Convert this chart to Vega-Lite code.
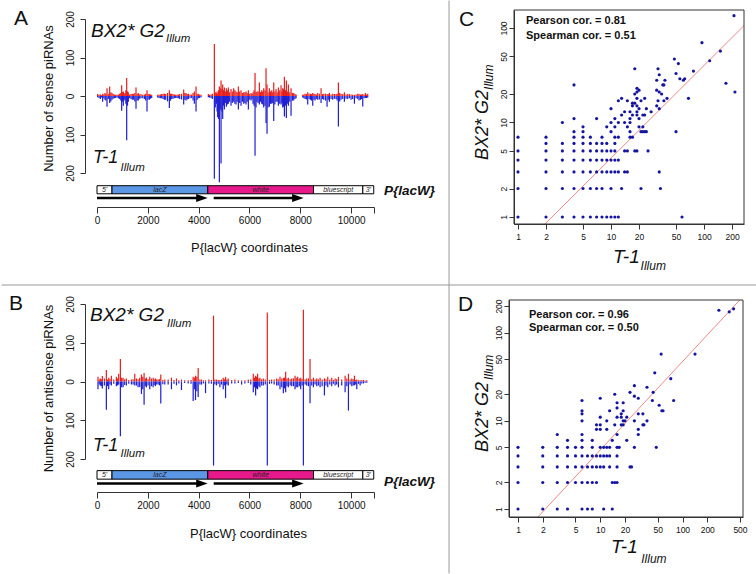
{
"$schema": "https://vega.github.io/schema/vega-lite/v6.json",
"padding": 0,
"autosize": {"type": "pad"},
"config": {
  "view": {"stroke": null},
  "font": "Liberation Sans",
  "axis": {"grid": false, "domainColor": "#333", "tickColor": "#333", "labelColor": "#111", "titleColor": "#111", "labelFont": "Liberation Sans", "titleFont": "Liberation Sans", "titleFontWeight": "normal", "labelFlush": false, "labelOverlap": false},
  "text": {"font": "Liberation Sans", "color": "#111"}
},
"datasets": {
  "aSpikes": [
    {"p":26,"s":5,"t":-3},{"p":131,"s":4,"t":-8},{"p":223,"s":6,"t":-15},{"p":315,"s":8,"t":-10},{"p":394,"s":20,"t":-28},{"p":499,"s":25,"t":-18},{"p":590,"s":8,"t":-10},{"p":682,"s":4,"t":-6},{"p":787,"s":3,"t":-4},{"p":892,"s":6,"t":-8},{"p":971,"s":28,"t":-38},{"p":1036,"s":12,"t":-25},{"p":1102,"s":8,"t":-12},{"p":1168,"s":47,"t":-115},{"p":1233,"s":10,"t":-15},{"p":1338,"s":5,"t":-8},{"p":1443,"s":6,"t":-10},{"p":1535,"s":22,"t":-33},{"p":1627,"s":8,"t":-12},{"p":1732,"s":5,"t":-6},{"p":1863,"s":4,"t":-8},{"p":1968,"s":15,"t":-40},{"p":2060,"s":5,"t":-10},{"p":2152,"s":3,"t":-5},{"p":2388,"s":3,"t":-4},{"p":2493,"s":4,"t":-6},{"p":2598,"s":6,"t":-8},{"p":2703,"s":5,"t":-10},{"p":2847,"s":15,"t":-31},{"p":2939,"s":6,"t":-8},{"p":3044,"s":4,"t":-6},{"p":3149,"s":3,"t":-5},{"p":3254,"s":5,"t":-8},{"p":3411,"s":17,"t":-22},{"p":3503,"s":8,"t":-12},{"p":3595,"s":6,"t":-8},{"p":3726,"s":4,"t":-5},{"p":3831,"s":12,"t":-20},{"p":3897,"s":25,"t":-40},{"p":3988,"s":5,"t":-6},{"p":4093,"s":3,"t":-3},{"p":4382,"s":5,"t":-3},{"p":4487,"s":4,"t":-5},{"p":4618,"s":135,"t":-215},{"p":4697,"s":8,"t":-20},{"p":4749,"s":5,"t":-55},{"p":4815,"s":25,"t":-224},{"p":4881,"s":40,"t":-175},{"p":4946,"s":30,"t":-60},{"p":5012,"s":22,"t":-35},{"p":5091,"s":20,"t":-28},{"p":5169,"s":22,"t":-20},{"p":5274,"s":18,"t":-25},{"p":5379,"s":20,"t":-15},{"p":5471,"s":12,"t":-22},{"p":5563,"s":25,"t":-35},{"p":5668,"s":15,"t":-25},{"p":5773,"s":10,"t":-20},{"p":5865,"s":12,"t":-22},{"p":5956,"s":15,"t":-35},{"p":6061,"s":8,"t":-12},{"p":6140,"s":10,"t":-20},{"p":6219,"s":60,"t":-155},{"p":6298,"s":12,"t":-15},{"p":6389,"s":35,"t":-22},{"p":6481,"s":15,"t":-20},{"p":6560,"s":20,"t":-30},{"p":6652,"s":72,"t":-70},{"p":6691,"s":30,"t":-98},{"p":6783,"s":20,"t":-28},{"p":6875,"s":15,"t":-20},{"p":6954,"s":35,"t":-65},{"p":7045,"s":18,"t":-15},{"p":7137,"s":22,"t":-25},{"p":7242,"s":28,"t":-22},{"p":7308,"s":20,"t":-30},{"p":7374,"s":50,"t":-53},{"p":7452,"s":40,"t":-57},{"p":7531,"s":30,"t":-25},{"p":7636,"s":20,"t":-51},{"p":7741,"s":8,"t":-12},{"p":7833,"s":4,"t":-6},{"p":8095,"s":3,"t":-4},{"p":8187,"s":6,"t":-8},{"p":8292,"s":10,"t":-22},{"p":8397,"s":6,"t":-10},{"p":8489,"s":8,"t":-25},{"p":8580,"s":5,"t":-12},{"p":8685,"s":8,"t":-10},{"p":8817,"s":20,"t":-18},{"p":8922,"s":6,"t":-10},{"p":9053,"s":5,"t":-28},{"p":9145,"s":8,"t":-15},{"p":9276,"s":6,"t":-10},{"p":9407,"s":5,"t":-8},{"p":9499,"s":35,"t":-79},{"p":9604,"s":6,"t":-10},{"p":9735,"s":10,"t":-15},{"p":9866,"s":5,"t":-8},{"p":9997,"s":4,"t":-10},{"p":10129,"s":3,"t":-20},{"p":10260,"s":6,"t":-8},{"p":10365,"s":4,"t":-10},{"p":10457,"s":5,"t":-27},{"p":10562,"s":8,"t":-5},{"p":10653,"s":6,"t":-4},
    {"p":80,"s":3,"t":-5},{"p":175,"s":2,"t":-4},{"p":270,"s":4,"t":-6},{"p":350,"s":5,"t":-12},{"p":445,"s":6,"t":-8},{"p":545,"s":10,"t":-14},{"p":635,"s":5,"t":-7},{"p":735,"s":3,"t":-5},{"p":840,"s":4,"t":-6},{"p":935,"s":8,"t":-12},{"p":1003,"s":10,"t":-15},{"p":1070,"s":6,"t":-9},{"p":1135,"s":15,"t":-20},{"p":1200,"s":12,"t":-25},{"p":1285,"s":4,"t":-6},{"p":1390,"s":6,"t":-10},{"p":1490,"s":8,"t":-14},{"p":1580,"s":6,"t":-12},{"p":1680,"s":4,"t":-7},{"p":1800,"s":3,"t":-6},{"p":1915,"s":6,"t":-12},{"p":2010,"s":5,"t":-9},{"p":2105,"s":4,"t":-7},{"p":2440,"s":3,"t":-5},{"p":2545,"s":5,"t":-6},{"p":2650,"s":6,"t":-10},{"p":2775,"s":8,"t":-14},{"p":2893,"s":6,"t":-12},{"p":2990,"s":5,"t":-7},{"p":3097,"s":3,"t":-5},{"p":3200,"s":4,"t":-6},{"p":3330,"s":6,"t":-9},{"p":3457,"s":8,"t":-10},{"p":3549,"s":5,"t":-9},{"p":3660,"s":4,"t":-6},{"p":3780,"s":8,"t":-12},{"p":3940,"s":6,"t":-10},{"p":4040,"s":4,"t":-5},{"p":4430,"s":3,"t":-4},{"p":4540,"s":6,"t":-8},{"p":4655,"s":10,"t":-30},{"p":4725,"s":12,"t":-40},{"p":4785,"s":15,"t":-60},{"p":4850,"s":20,"t":-35},{"p":4914,"s":18,"t":-40},{"p":4980,"s":15,"t":-25},{"p":5050,"s":12,"t":-18},{"p":5130,"s":15,"t":-22},{"p":5220,"s":10,"t":-15},{"p":5325,"s":12,"t":-18},{"p":5425,"s":15,"t":-20},{"p":5517,"s":10,"t":-15},{"p":5615,"s":12,"t":-18},{"p":5720,"s":8,"t":-15},{"p":5820,"s":10,"t":-18},{"p":5910,"s":8,"t":-15},{"p":6010,"s":6,"t":-10},{"p":6100,"s":5,"t":-8},{"p":6180,"s":15,"t":-25},{"p":6258,"s":10,"t":-30},{"p":6340,"s":12,"t":-18},{"p":6435,"s":10,"t":-15},{"p":6520,"s":12,"t":-22},{"p":6610,"s":15,"t":-25},{"p":6730,"s":10,"t":-30},{"p":6830,"s":12,"t":-20},{"p":6915,"s":10,"t":-18},{"p":7000,"s":12,"t":-22},{"p":7090,"s":10,"t":-15},{"p":7190,"s":15,"t":-20},{"p":7275,"s":12,"t":-18},{"p":7340,"s":18,"t":-28},{"p":7415,"s":15,"t":-25},{"p":7490,"s":12,"t":-20},{"p":7585,"s":10,"t":-15},{"p":7690,"s":8,"t":-12},{"p":7790,"s":5,"t":-8},{"p":8140,"s":4,"t":-6},{"p":8240,"s":5,"t":-9},{"p":8345,"s":6,"t":-8},{"p":8440,"s":5,"t":-12},{"p":8535,"s":6,"t":-10},{"p":8630,"s":4,"t":-8},{"p":8750,"s":6,"t":-9},{"p":8870,"s":5,"t":-8},{"p":8990,"s":6,"t":-12},{"p":9100,"s":5,"t":-10},{"p":9210,"s":4,"t":-8},{"p":9340,"s":5,"t":-7},{"p":9450,"s":6,"t":-12},{"p":9550,"s":8,"t":-14},{"p":9670,"s":5,"t":-8},{"p":9800,"s":4,"t":-7},{"p":9930,"s":5,"t":-6},{"p":10060,"s":3,"t":-8},{"p":10195,"s":4,"t":-6},{"p":10310,"s":5,"t":-12},{"p":10410,"s":4,"t":-8},{"p":10510,"s":3,"t":-6},{"p":10610,"s":4,"t":-5}
  ],
  "bSpikes": [
    {"p":39,"s":12,"t":-20},{"p":131,"s":8,"t":-10},{"p":210,"s":14,"t":-18},{"p":368,"s":30,"t":-73},{"p":460,"s":10,"t":-20},{"p":565,"s":15,"t":-10},{"p":762,"s":12,"t":-12},{"p":854,"s":20,"t":-8},{"p":920,"s":58,"t":-141},{"p":1025,"s":10,"t":-15},{"p":1156,"s":8,"t":-10},{"p":1353,"s":5,"t":-8},{"p":1485,"s":20,"t":-10},{"p":1616,"s":6,"t":-15},{"p":1748,"s":18,"t":-32},{"p":1853,"s":22,"t":-60},{"p":1945,"s":10,"t":-15},{"p":2076,"s":12,"t":-20},{"p":2208,"s":10,"t":-15},{"p":2300,"s":8,"t":-12},{"p":2405,"s":5,"t":-8},{"p":2510,"s":18,"t":-57},{"p":2667,"s":5,"t":-8},{"p":2930,"s":10,"t":-20},{"p":3127,"s":8,"t":-10},{"p":3324,"s":5,"t":-22},{"p":3587,"s":3,"t":-5},{"p":3784,"s":12,"t":-50},{"p":3876,"s":15,"t":-48},{"p":3981,"s":35,"t":-40},{"p":4113,"s":5,"t":-8},{"p":4271,"s":3,"t":-30},{"p":4402,"s":5,"t":-5},{"p":4586,"s":170,"t":-217},{"p":4704,"s":5,"t":-10},{"p":4836,"s":4,"t":-15},{"p":4967,"s":10,"t":-20},{"p":5059,"s":12,"t":-43},{"p":5164,"s":8,"t":-10},{"p":5427,"s":5,"t":-5},{"p":5690,"s":3,"t":-8},{"p":5952,"s":5,"t":-4},{"p":6150,"s":20,"t":-28},{"p":6242,"s":15,"t":-36},{"p":6320,"s":20,"t":-20},{"p":6412,"s":10,"t":-15},{"p":6544,"s":8,"t":-10},{"p":6701,"s":178,"t":-217},{"p":6872,"s":5,"t":-5},{"p":7069,"s":8,"t":-10},{"p":7201,"s":12,"t":-20},{"p":7332,"s":10,"t":-30},{"p":7424,"s":25,"t":-28},{"p":7529,"s":10,"t":-15},{"p":7661,"s":8,"t":-12},{"p":7792,"s":15,"t":-20},{"p":7897,"s":12,"t":-15},{"p":8015,"s":10,"t":-20},{"p":8121,"s":185,"t":-217},{"p":8252,"s":8,"t":-10},{"p":8383,"s":58,"t":-56},{"p":8515,"s":10,"t":-15},{"p":8646,"s":8,"t":-12},{"p":8778,"s":10,"t":-15},{"p":8949,"s":8,"t":-36},{"p":9080,"s":12,"t":-15},{"p":9237,"s":10,"t":-12},{"p":9369,"s":8,"t":-10},{"p":9500,"s":12,"t":-15},{"p":9763,"s":15,"t":-28},{"p":9894,"s":20,"t":-75},{"p":10026,"s":8,"t":-12},{"p":10131,"s":15,"t":-10},{"p":10223,"s":5,"t":-20},{"p":10354,"s":3,"t":-10},{"p":10486,"s":4,"t":-5},{"p":10617,"s":3,"t":-3},
    {"p":85,"s":5,"t":-8},{"p":170,"s":6,"t":-12},{"p":290,"s":8,"t":-10},{"p":414,"s":5,"t":-12},{"p":512,"s":6,"t":-8},{"p":660,"s":5,"t":-6},{"p":810,"s":8,"t":-10},{"p":970,"s":10,"t":-15},{"p":1090,"s":6,"t":-9},{"p":1250,"s":4,"t":-6},{"p":1420,"s":6,"t":-8},{"p":1550,"s":8,"t":-10},{"p":1680,"s":10,"t":-14},{"p":1800,"s":12,"t":-20},{"p":1900,"s":8,"t":-12},{"p":2010,"s":6,"t":-10},{"p":2140,"s":8,"t":-12},{"p":2250,"s":6,"t":-9},{"p":2350,"s":5,"t":-8},{"p":2460,"s":6,"t":-10},{"p":2590,"s":4,"t":-7},{"p":2800,"s":5,"t":-8},{"p":3030,"s":4,"t":-6},{"p":3220,"s":3,"t":-5},{"p":3450,"s":3,"t":-4},{"p":3700,"s":4,"t":-6},{"p":3830,"s":10,"t":-20},{"p":3930,"s":12,"t":-25},{"p":4050,"s":5,"t":-8},{"p":4190,"s":3,"t":-5},{"p":4500,"s":4,"t":-6},{"p":4640,"s":5,"t":-8},{"p":4770,"s":4,"t":-6},{"p":4900,"s":5,"t":-8},{"p":5010,"s":6,"t":-10},{"p":5110,"s":5,"t":-8},{"p":5300,"s":4,"t":-5},{"p":5560,"s":3,"t":-4},{"p":5820,"s":3,"t":-5},{"p":6050,"s":5,"t":-8},{"p":6200,"s":10,"t":-15},{"p":6280,"s":12,"t":-18},{"p":6370,"s":8,"t":-12},{"p":6480,"s":6,"t":-10},{"p":6620,"s":5,"t":-8},{"p":6790,"s":4,"t":-6},{"p":6970,"s":5,"t":-8},{"p":7130,"s":6,"t":-10},{"p":7270,"s":8,"t":-15},{"p":7380,"s":10,"t":-18},{"p":7475,"s":8,"t":-12},{"p":7600,"s":6,"t":-10},{"p":7730,"s":8,"t":-12},{"p":7840,"s":10,"t":-15},{"p":7960,"s":8,"t":-12},{"p":8070,"s":6,"t":-10},{"p":8190,"s":5,"t":-8},{"p":8320,"s":8,"t":-12},{"p":8450,"s":6,"t":-10},{"p":8580,"s":5,"t":-8},{"p":8710,"s":6,"t":-10},{"p":8860,"s":5,"t":-12},{"p":9010,"s":6,"t":-10},{"p":9160,"s":5,"t":-8},{"p":9300,"s":4,"t":-6},{"p":9430,"s":6,"t":-8},{"p":9630,"s":5,"t":-10},{"p":9830,"s":8,"t":-12},{"p":9960,"s":5,"t":-8},{"p":10080,"s":6,"t":-10},{"p":10180,"s":4,"t":-8},{"p":10290,"s":3,"t":-6},{"p":10420,"s":3,"t":-5},{"p":10550,"s":2,"t":-3}
  ],
  "genes": [
    {"seg":"5'","a":0,"b":590,"m":295},{"seg":"lacZ","a":590,"b":4360,"m":2475},{"seg":"white","a":4360,"b":8520,"m":6440},{"seg":"bluescript","a":8520,"b":10460,"m":9490},{"seg":"3'","a":10460,"b":10890,"m":10675}
  ],
  "arrows": [
    {"a":0,"e":4120,"tip":4355},{"a":4592,"e":7890,"tip":8130}
  ],
  "cPts": [
    {"x":1,"y":1},{"x":2,"y":1},{"x":3,"y":1},{"x":4,"y":1},{"x":5,"y":1},{"x":6,"y":1},{"x":7,"y":1},{"x":8,"y":1},{"x":9,"y":1},{"x":10,"y":1},{"x":11,"y":1},{"x":12,"y":1},{"x":58,"y":1},
    {"x":1,"y":2},{"x":2,"y":2},{"x":3,"y":2},{"x":4,"y":2},{"x":5,"y":2},{"x":6,"y":2},{"x":7,"y":2},{"x":8,"y":2},{"x":10,"y":2},{"x":13,"y":2},{"x":21,"y":2},{"x":34,"y":2},
    {"x":1,"y":3},{"x":2,"y":3},{"x":3,"y":3},{"x":4,"y":3},{"x":5,"y":3},{"x":6,"y":3},{"x":7,"y":3},{"x":8,"y":3},{"x":9,"y":3},{"x":10,"y":3},{"x":11,"y":3},{"x":12,"y":3},{"x":14,"y":3},{"x":15,"y":3},{"x":33,"y":3},
    {"x":1,"y":4},{"x":2,"y":4},{"x":3,"y":4},{"x":4,"y":4},{"x":5,"y":4},{"x":6,"y":4},{"x":7,"y":4},{"x":8,"y":4},{"x":9,"y":4},{"x":10,"y":4},{"x":11,"y":4},{"x":12,"y":4},
    {"x":1,"y":5},{"x":2,"y":5},{"x":3,"y":5},{"x":4,"y":5},{"x":5,"y":5},{"x":6,"y":5},{"x":7,"y":5},{"x":8,"y":5},{"x":9,"y":5},{"x":10,"y":5},{"x":11,"y":5},{"x":14,"y":5},{"x":15,"y":5},{"x":18,"y":5},{"x":19,"y":5},{"x":25,"y":5},
    {"x":2,"y":6},{"x":3,"y":6},{"x":4,"y":6},{"x":5,"y":6},{"x":6,"y":6},{"x":7,"y":6},{"x":8,"y":6},{"x":9,"y":6},{"x":11,"y":6},
    {"x":1,"y":7},{"x":2,"y":7},{"x":4,"y":7},{"x":5,"y":7},{"x":6,"y":7},{"x":8,"y":7},{"x":11,"y":7},{"x":12,"y":7},{"x":16,"y":7},{"x":17,"y":7},
    {"x":4,"y":8},{"x":5,"y":8},{"x":10,"y":8},{"x":16,"y":8},{"x":21,"y":8},{"x":22,"y":8},{"x":23,"y":8},{"x":24,"y":8},{"x":50,"y":8},
    {"x":5,"y":9},{"x":9,"y":9},{"x":11,"y":9},{"x":15,"y":9},{"x":20,"y":9},{"x":22,"y":9},
    {"x":3,"y":10},{"x":10,"y":10},{"x":12,"y":10},{"x":14,"y":10},{"x":16,"y":10},
    {"x":4,"y":11},{"x":7,"y":11},{"x":11,"y":11},{"x":16,"y":11},{"x":20,"y":11},
    {"x":13,"y":12},{"x":17,"y":12},{"x":19,"y":12},{"x":22,"y":12},{"x":23,"y":12},
    {"x":14,"y":13},{"x":16,"y":13},{"x":19,"y":13},{"x":27,"y":13},
    {"x":10,"y":14},{"x":20,"y":14},{"x":24,"y":14},{"x":33,"y":14},
    {"x":17,"y":15},{"x":19,"y":15},{"x":31,"y":15},
    {"x":17,"y":16},{"x":18,"y":16},
    {"x":12,"y":17},{"x":15,"y":17},{"x":21,"y":17},{"x":32,"y":17},{"x":37,"y":17},
    {"x":13,"y":18},{"x":19,"y":18},{"x":23,"y":18},{"x":40,"y":18},{"x":68,"y":18},
    {"x":18,"y":20},{"x":35,"y":20},
    {"x":19,"y":21},{"x":33,"y":21},{"x":215,"y":21},
    {"x":20,"y":22},{"x":31,"y":22},
    {"x":19,"y":23},
    {"x":4,"y":25},{"x":36,"y":25},{"x":37,"y":25},
    {"x":172,"y":26},
    {"x":31,"y":28},{"x":38,"y":28},{"x":60,"y":28},
    {"x":55,"y":29},{"x":62,"y":29},
    {"x":33,"y":32},{"x":50,"y":33},{"x":77,"y":35},
    {"x":18,"y":37},{"x":32,"y":37},
    {"x":53,"y":42},{"x":115,"y":45},{"x":48,"y":47},{"x":150,"y":57},{"x":95,"y":70},{"x":210,"y":135}
  ],
  "dPts": [
    {"x":1,"y":1},{"x":2,"y":1},{"x":3,"y":1},{"x":4,"y":1},{"x":6,"y":1},{"x":7,"y":1},{"x":8,"y":1},{"x":11,"y":1},{"x":14,"y":1},
    {"x":1,"y":2},{"x":2,"y":2},{"x":3,"y":2},{"x":4,"y":2},{"x":5,"y":2},{"x":6,"y":2},{"x":7,"y":2},{"x":8,"y":2},{"x":9,"y":2},{"x":14,"y":2},{"x":15,"y":2},{"x":16,"y":2},
    {"x":1,"y":3},{"x":2,"y":3},{"x":3,"y":3},{"x":4,"y":3},{"x":5,"y":3},{"x":6,"y":3},{"x":7,"y":3},{"x":8,"y":3},{"x":9,"y":3},{"x":10,"y":3},{"x":11,"y":3},{"x":13,"y":3},{"x":16,"y":3},{"x":23,"y":3},{"x":24,"y":3},
    {"x":1,"y":4},{"x":2,"y":4},{"x":3,"y":4},{"x":4,"y":4},{"x":5,"y":4},{"x":6,"y":4},{"x":7,"y":4},{"x":8,"y":4},{"x":9,"y":4},{"x":10,"y":4},{"x":11,"y":4},{"x":12,"y":4},{"x":13,"y":4},{"x":16,"y":4},
    {"x":1,"y":5},{"x":2,"y":5},{"x":3,"y":5},{"x":4,"y":5},{"x":5,"y":5},{"x":6,"y":5},{"x":8,"y":5},{"x":10,"y":5},{"x":11,"y":5},{"x":12,"y":5},{"x":13,"y":5},{"x":16,"y":5},{"x":17,"y":5},{"x":26,"y":5},{"x":48,"y":5},
    {"x":4,"y":6},{"x":6,"y":6},{"x":8,"y":6},{"x":14,"y":6},{"x":21,"y":6},
    {"x":3,"y":7},{"x":6,"y":7},{"x":16,"y":7},{"x":29,"y":7},
    {"x":9,"y":8},{"x":10,"y":8},{"x":12,"y":8},{"x":29,"y":8},
    {"x":9,"y":9},{"x":10,"y":9},{"x":15,"y":9},{"x":18,"y":9},{"x":19,"y":9},{"x":33,"y":9},{"x":34,"y":9},
    {"x":6,"y":10},{"x":12,"y":10},{"x":19,"y":10},{"x":20,"y":10},{"x":26,"y":10},{"x":37,"y":10},
    {"x":10,"y":11},{"x":16,"y":11},{"x":18,"y":11},{"x":21,"y":11},
    {"x":6,"y":12},{"x":18,"y":12},{"x":29,"y":12},{"x":33,"y":12},
    {"x":6,"y":13},{"x":13,"y":13},{"x":19,"y":13},{"x":56,"y":13},{"x":58,"y":13},
    {"x":16,"y":14},{"x":52,"y":15},{"x":16,"y":16},{"x":19,"y":16},
    {"x":6,"y":17},{"x":43,"y":17},{"x":78,"y":17},
    {"x":10,"y":18},{"x":29,"y":18},{"x":26,"y":19},{"x":15,"y":20},
    {"x":23,"y":21},{"x":44,"y":21},{"x":37,"y":24},{"x":26,"y":25},{"x":72,"y":30},{"x":46,"y":35},
    {"x":55,"y":57},{"x":142,"y":57},{"x":370,"y":172},{"x":277,"y":179},{"x":418,"y":186}
  ]
},
"bounds": "flush",
"columns": 2,
"spacing": {"row": 76, "column": 135},
"concat": [
  {
    "width": 277, "height": 197,
    "data": {"values": [{}]},
    "layer": [
      {"data": {"name": "aSpikes"}, "mark": {"type": "rule", "color": "#e61e1e", "strokeWidth": 1.2},
       "encoding": {
         "x": {"field": "p", "type": "quantitative", "scale": {"domain": [0, 10900], "nice": false, "zero": false},
               "axis": {"values": [0,2000,4000,6000,8000,10000,10900], "format": "d", "labelExpr": "datum.value > 10500 ? '' : datum.label", "title": "P{lacW} coordinates", "titleFontSize": 13, "titleX": 152, "titleY": 40, "titleBaseline": "middle", "titleAlign": "center", "labelFontSize": 10, "tickSize": 6, "labelPadding": 2}},
         "y": {"field": "s", "type": "quantitative", "scale": {"domain": [-200, 200], "range": [163, 9], "nice": false, "zero": false},
               "axis": {"values": [-200,-100,0,100,200], "labelExpr": "format(abs(datum.value), 'd')", "labelAngle": 270, "labelAlign": "center", "labelBaseline": "bottom", "labelFontSize": 10, "labelPadding": 5, "tickSize": 5, "offset": 12, "title": "Number of sense piRNAs", "titleFontSize": 13, "titleX": -37, "titleY": 88, "titleBaseline": "middle", "titleAngle": 270}},
         "y2": {"datum": 0}
       }},
      {"data": {"name": "aSpikes"}, "mark": {"type": "rule", "color": "#1e1ed2", "strokeWidth": 1.2},
       "encoding": {"x": {"field": "p", "type": "quantitative"}, "y": {"field": "t", "type": "quantitative"}, "y2": {"datum": 0}}},
      {"data": {"name": "genes"}, "mark": {"type": "rect", "stroke": "#000", "strokeWidth": 1, "opacity": 1},
       "encoding": {"x": {"field": "a", "type": "quantitative"}, "x2": {"field": "b"}, "y": {"datum": -233}, "y2": {"datum": -254},
         "color": {"field": "seg", "type": "nominal", "scale": {"domain": ["5'","lacZ","white","bluescript","3'"], "range": ["#ffffff","#5b97e5","#e8198b","#ffffff","#ffffff"]}, "legend": null}}},
      {"data": {"name": "genes"}, "mark": {"type": "text", "fontSize": 7, "fontStyle": "italic", "baseline": "middle", "align": "center", "color": "#222"},
       "encoding": {"x": {"field": "m", "type": "quantitative"}, "y": {"datum": -243.5}, "text": {"field": "seg"}}},
      {"data": {"name": "arrows"}, "mark": {"type": "rule", "color": "#000", "strokeWidth": 2.5},
       "encoding": {"x": {"field": "a", "type": "quantitative"}, "x2": {"field": "e"}, "y": {"datum": -265}}},
      {"data": {"name": "arrows"}, "mark": {"type": "point", "shape": "M-1,-0.35L0,0L-1,0.35Z", "size": 529, "filled": true, "color": "#000", "opacity": 1, "strokeWidth": 0},
       "encoding": {"x": {"field": "tip", "type": "quantitative"}, "y": {"datum": -265}}},
      {"mark": {"type": "text", "text": "A", "fontSize": 21, "align": "left", "baseline": "alphabetic"},
       "encoding": {"x": {"datum": -3266}, "y": {"datum": 184.4}}},
      {"mark": {"type": "text", "text": "BX2* G2", "fontSize": 19, "fontStyle": "italic", "align": "left", "baseline": "alphabetic"},
       "encoding": {"x": {"datum": -236}, "y": {"datum": 153.2}}},
      {"mark": {"type": "text", "text": "Illum", "fontSize": 11.5, "fontStyle": "italic", "align": "left", "baseline": "alphabetic"},
       "encoding": {"x": {"datum": 2715}, "y": {"datum": 140.3}}},
      {"mark": {"type": "text", "text": "T-1", "fontSize": 18, "fontStyle": "italic", "align": "left", "baseline": "alphabetic"},
       "encoding": {"x": {"datum": -157}, "y": {"datum": -174}}},
      {"mark": {"type": "text", "text": "Illum", "fontSize": 11.5, "fontStyle": "italic", "align": "left", "baseline": "alphabetic"},
       "encoding": {"x": {"datum": 925}, "y": {"datum": -194.8}}},
      {"mark": {"type": "text", "text": "P{lacW}", "fontSize": 13.5, "fontStyle": "italic", "fontWeight": "bold", "align": "left", "baseline": "middle"},
       "encoding": {"x": {"datum": 11294}, "y": {"datum": -246.8}}},
      {"mark": {"type": "rule", "color": "#999", "strokeWidth": 1},
       "encoding": {"x": {"datum": -3758}, "x2": {"datum": 25951}, "y": {"datum": -490.9}}},
      {"mark": {"type": "rule", "color": "#999", "strokeWidth": 1},
       "encoding": {"x": {"datum": 13852}, "y": {"datum": 248.0}, "y2": {"datum": -1240.3}}}
    ]
  },
  {
    "width": 235, "height": 214,
    "data": {"values": [{}]},
    "layer": [
      {"mark": {"type": "rule", "color": "#ec7c7c", "strokeWidth": 0.9},
       "encoding": {"x": {"datum": 1.95}, "y": {"datum": 0.843}, "x2": {"datum": 269}, "y2": {"datum": 106}}},
      {"data": {"name": "cPts"}, "mark": {"type": "circle", "size": 10, "color": "#1414a0", "opacity": 1},
       "encoding": {
         "x": {"field": "x", "type": "quantitative", "scale": {"type": "log", "domain": [0.906, 269], "range": [5, 235], "nice": false},
               "axis": {"values": [1,2,5,10,20,50,100,200], "format": "d", "title": null, "tickSize": 5, "labelFontSize": 8.5, "labelPadding": 3}},
         "y": {"field": "y", "type": "quantitative", "scale": {"type": "log", "domain": [0.843, 155], "nice": false},
               "axis": {"values": [1,2,5,10,20,50,100], "format": "d", "title": null, "labelAngle": 270, "labelAlign": "center", "labelBaseline": "bottom", "offset": -5, "tickSize": 5, "labelFontSize": 8.5, "labelPadding": 1}}
       }},
      {"mark": {"type": "rect", "fillOpacity": 0, "stroke": "#333", "strokeWidth": 1},
       "encoding": {"x": {"datum": 0.906}, "x2": {"datum": 269}, "y": {"datum": 0.843}, "y2": {"datum": 155}}},
      {"mark": {"type": "text", "text": "C", "fontSize": 21, "align": "left", "baseline": "alphabetic"},
       "encoding": {"x": {"datum": 0.232}, "y": {"datum": 105}}},
      {"mark": {"type": "text", "text": "Pearson cor. = 0.81", "fontSize": 11, "fontWeight": "bold", "align": "left", "baseline": "alphabetic"},
       "encoding": {"x": {"datum": 1.219}, "y": {"datum": 110}}},
      {"mark": {"type": "text", "text": "Spearman cor. = 0.51", "fontSize": 11, "fontWeight": "bold", "align": "left", "baseline": "alphabetic"},
       "encoding": {"x": {"datum": 1.219}, "y": {"datum": 76.5}}},
      {"mark": {"type": "text", "text": "BX2* G2", "fontSize": 18, "fontStyle": "italic", "angle": 270, "align": "left", "baseline": "alphabetic"},
       "encoding": {"x": {"datum": 0.4758}, "y": {"datum": 4.01}}},
      {"mark": {"type": "text", "text": "Illum", "fontSize": 12, "fontStyle": "italic", "angle": 270, "align": "left", "baseline": "alphabetic"},
       "encoding": {"x": {"datum": 0.538}, "y": {"datum": 22.1}}},
      {"mark": {"type": "text", "text": "T-1", "fontSize": 19, "fontStyle": "italic", "align": "left", "baseline": "alphabetic"},
       "encoding": {"x": {"datum": 10.5}, "y": {"datum": 0.326}}},
      {"mark": {"type": "text", "text": "Illum", "fontSize": 12, "fontStyle": "italic", "align": "left", "baseline": "alphabetic"},
       "encoding": {"x": {"datum": 20.8}, "y": {"datum": 0.275}}}
    ]
  },
  {
    "width": 277, "height": 192,
    "data": {"values": [{}]},
    "layer": [
      {"data": {"name": "bSpikes"}, "mark": {"type": "rule", "color": "#e61e1e", "strokeWidth": 1.2},
       "encoding": {
         "x": {"field": "p", "type": "quantitative", "scale": {"domain": [0, 10900], "nice": false, "zero": false},
               "axis": {"values": [0,2000,4000,6000,8000,10000,10900], "format": "d", "labelExpr": "datum.value > 10500 ? '' : datum.label", "title": "P{lacW} coordinates", "titleFontSize": 13, "titleX": 151, "titleY": 41, "titleBaseline": "middle", "titleAlign": "center", "labelFontSize": 10, "tickSize": 6, "labelPadding": 2}},
         "y": {"field": "s", "type": "quantitative", "scale": {"domain": [-200, 200], "range": [159, 4], "nice": false, "zero": false},
               "axis": {"values": [-200,-100,0,100,200], "labelExpr": "format(abs(datum.value), 'd')", "labelAngle": 270, "labelAlign": "center", "labelBaseline": "bottom", "labelFontSize": 10, "labelPadding": 5, "tickSize": 5, "offset": 12, "title": "Number of antisense piRNAs", "titleFontSize": 13, "titleX": -37, "titleY": 88, "titleBaseline": "middle", "titleAngle": 270}},
         "y2": {"datum": 0}
       }},
      {"data": {"name": "bSpikes"}, "mark": {"type": "rule", "color": "#1e1ed2", "strokeWidth": 1.2},
       "encoding": {"x": {"field": "p", "type": "quantitative"}, "y": {"field": "t", "type": "quantitative"}, "y2": {"datum": 0}}},
      {"data": {"name": "genes"}, "mark": {"type": "rect", "stroke": "#000", "strokeWidth": 1, "opacity": 1},
       "encoding": {"x": {"field": "a", "type": "quantitative"}, "x2": {"field": "b"}, "y": {"datum": -230}, "y2": {"datum": -252},
         "color": {"field": "seg", "type": "nominal", "scale": {"domain": ["5'","lacZ","white","bluescript","3'"], "range": ["#ffffff","#5b97e5","#e8198b","#ffffff","#ffffff"]}, "legend": null}}},
      {"data": {"name": "genes"}, "mark": {"type": "text", "fontSize": 7, "fontStyle": "italic", "baseline": "middle", "align": "center", "color": "#222"},
       "encoding": {"x": {"field": "m", "type": "quantitative"}, "y": {"datum": -241}, "text": {"field": "seg"}}},
      {"data": {"name": "arrows"}, "mark": {"type": "rule", "color": "#000", "strokeWidth": 2.5},
       "encoding": {"x": {"field": "a", "type": "quantitative"}, "x2": {"field": "e"}, "y": {"datum": -263}}},
      {"data": {"name": "arrows"}, "mark": {"type": "point", "shape": "M-1,-0.35L0,0L-1,0.35Z", "size": 529, "filled": true, "color": "#000", "opacity": 1, "strokeWidth": 0},
       "encoding": {"x": {"field": "tip", "type": "quantitative"}, "y": {"datum": -263}}},
      {"mark": {"type": "text", "text": "B", "fontSize": 21, "align": "left", "baseline": "alphabetic"},
       "encoding": {"x": {"datum": -3463}, "y": {"datum": 184.5}}},
      {"mark": {"type": "text", "text": "BX2* G2", "fontSize": 19, "fontStyle": "italic", "align": "left", "baseline": "alphabetic"},
       "encoding": {"x": {"datum": -275}, "y": {"datum": 156.1}}},
      {"mark": {"type": "text", "text": "Illum", "fontSize": 11.5, "fontStyle": "italic", "align": "left", "baseline": "alphabetic"},
       "encoding": {"x": {"datum": 2754}, "y": {"datum": 140.6}}},
      {"mark": {"type": "text", "text": "T-1", "fontSize": 18, "fontStyle": "italic", "align": "left", "baseline": "alphabetic"},
       "encoding": {"x": {"datum": -157}, "y": {"datum": -179.4}}},
      {"mark": {"type": "text", "text": "Illum", "fontSize": 11.5, "fontStyle": "italic", "align": "left", "baseline": "alphabetic"},
       "encoding": {"x": {"datum": 925}, "y": {"datum": -194.8}}},
      {"mark": {"type": "text", "text": "P{lacW}", "fontSize": 13.5, "fontStyle": "italic", "fontWeight": "bold", "align": "left", "baseline": "middle"},
       "encoding": {"x": {"datum": 11294}, "y": {"datum": -260}}}
    ]
  },
  {
    "width": 234, "height": 217,
    "data": {"values": [{}]},
    "layer": [
      {"mark": {"type": "rule", "color": "#ec7c7c", "strokeWidth": 0.9},
       "encoding": {"x": {"datum": 1.745}, "y": {"datum": 0.812}, "x2": {"datum": 497}, "y2": {"datum": 234}}},
      {"data": {"name": "dPts"}, "mark": {"type": "circle", "size": 10, "color": "#1414a0", "opacity": 1},
       "encoding": {
         "x": {"field": "x", "type": "quantitative", "scale": {"type": "log", "domain": [0.777, 544], "nice": false},
               "axis": {"values": [1,2,5,10,20,50,100,200,500], "format": "d", "title": null, "tickSize": 5, "labelFontSize": 8.5, "labelPadding": 3}},
         "y": {"field": "y", "type": "quantitative", "scale": {"type": "log", "domain": [0.812, 234], "nice": false},
               "axis": {"values": [1,2,5,10,20,50,100,200], "format": "d", "title": null, "labelAngle": 270, "labelAlign": "center", "labelBaseline": "bottom", "tickSize": 5, "labelFontSize": 8.5, "labelPadding": 1}}
       }},
      {"mark": {"type": "rect", "fillOpacity": 0, "stroke": "#333", "strokeWidth": 1},
       "encoding": {"x": {"datum": 0.777}, "x2": {"datum": 544}, "y": {"datum": 0.812}, "y2": {"datum": 234}}},
      {"mark": {"type": "text", "text": "D", "fontSize": 21, "align": "left", "baseline": "alphabetic"},
       "encoding": {"x": {"datum": 0.1864}, "y": {"datum": 176}}},
      {"mark": {"type": "text", "text": "Pearson cor. = 0.96", "fontSize": 11, "fontWeight": "bold", "align": "left", "baseline": "alphabetic"},
       "encoding": {"x": {"datum": 1.36}, "y": {"datum": 146.5}}},
      {"mark": {"type": "text", "text": "Spearman cor. = 0.50", "fontSize": 11, "fontWeight": "bold", "align": "left", "baseline": "alphabetic"},
       "encoding": {"x": {"datum": 1.36}, "y": {"datum": 104}}},
      {"mark": {"type": "text", "text": "BX2* G2", "fontSize": 18, "fontStyle": "italic", "angle": 270, "align": "left", "baseline": "alphabetic"},
       "encoding": {"x": {"datum": 0.4317}, "y": {"datum": 4.43}}},
      {"mark": {"type": "text", "text": "Illum", "fontSize": 12, "fontStyle": "italic", "angle": 270, "align": "left", "baseline": "alphabetic"},
       "encoding": {"x": {"datum": 0.4966}, "y": {"datum": 29.0}}},
      {"mark": {"type": "text", "text": "T-1", "fontSize": 19, "fontStyle": "italic", "align": "left", "baseline": "alphabetic"},
       "encoding": {"x": {"datum": 13.5}, "y": {"datum": 0.317}}},
      {"mark": {"type": "text", "text": "Illum", "fontSize": 12, "fontStyle": "italic", "align": "left", "baseline": "alphabetic"},
       "encoding": {"x": {"datum": 31.5}, "y": {"datum": 0.244}}}
    ]
  }
]
}
